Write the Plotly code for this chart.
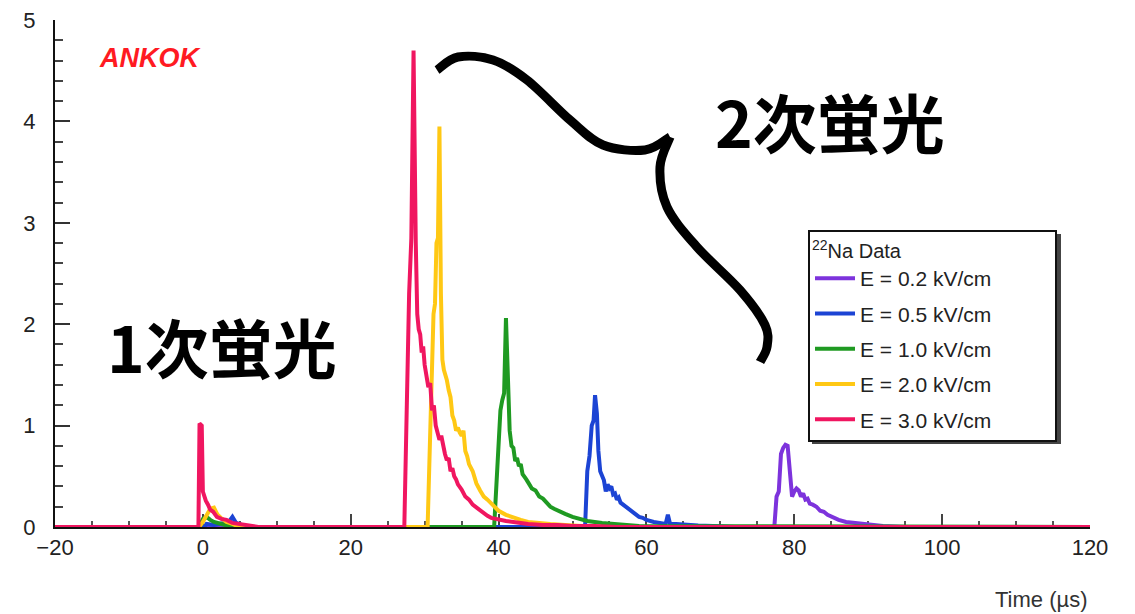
import plotly.graph_objects as go

# ---------------- data ----------------
series_names = ["E = 0.2 kV/cm", "E = 0.5 kV/cm", "E = 1.0 kV/cm", "E = 2.0 kV/cm", "E = 3.0 kV/cm"]
series_colors = ["#7d33dc", "#1c44d4", "#1f9a22", "#ffc814", "#f01660"]

x_e02 = [-20, 77.3, 77.6, 77.9, 78.2, 78.5, 78.8, 79.1, 79.4, 79.7, 80.0, 80.3, 80.6, 80.9, 81.2, 81.5, 81.8, 82.1,
         82.5, 83.0, 83.5, 84.0, 84.5, 85.0, 85.5, 86.0, 87.0, 88.0, 89.0, 90.0, 92.0, 95.0, 120]
y_e02 = [0, 0, 0.3, 0.35, 0.72, 0.78, 0.81, 0.8, 0.55, 0.3, 0.35, 0.38, 0.36, 0.3, 0.33, 0.27, 0.28, 0.23,
         0.22, 0.2, 0.16, 0.15, 0.12, 0.1, 0.08, 0.07, 0.05, 0.04, 0.03, 0.02, 0.01, 0, 0]

x_e05 = [-20, 0.2, 0.5, 1.5, 3.5, 4.0, 4.5, 6,
         51.7, 52.0, 52.3, 52.6, 52.85, 53.05, 53.3, 53.5, 53.75, 54.0, 54.25, 54.5, 54.75, 55.0, 55.25, 55.5, 55.75, 56.0, 56.25, 56.5,
         57.0, 57.5, 58.0, 58.5, 59.0, 59.5, 60.0,
         61.0, 62.0, 62.6, 62.9, 63.2, 64.0, 65.5, 67.0, 69, 72, 120]
y_e05 = [0, 0, 0.03, 0.02, 0.05, 0.1, 0.04, 0,
         0, 0.55, 0.7, 1.0, 1.05, 1.3, 1.12, 0.75, 0.55, 0.5, 0.46, 0.35, 0.42, 0.38, 0.4, 0.32, 0.33, 0.27, 0.29, 0.24,
         0.21, 0.18, 0.15, 0.12, 0.1, 0.09, 0.07,
         0.05, 0.04, 0.03, 0.12, 0.03, 0.03, 0.02, 0.015, 0.01, 0, 0]

x_e10 = [-20, -0.5, 0, 0.5, 1.0, 1.5, 2.5, 4,
         39.4, 39.7, 40.0, 40.25, 40.5, 40.75, 41.0, 41.25, 41.5, 41.75, 42.0, 42.25, 42.5, 42.75, 43.0, 43.25, 43.5, 43.75, 44.0,
         44.5, 45.0, 45.5, 46.0, 46.5, 47.0, 47.5, 48.0,
         49.0, 50.0, 51.0, 52.0, 54.0, 56.0, 59.0, 120]
y_e10 = [0, 0, 0.08, 0.1, 0.07, 0.05, 0.03, 0,
         0, 0.45, 0.95, 1.15, 1.25, 1.32, 2.06, 1.3, 0.95, 0.8, 0.78, 0.65, 0.68, 0.6, 0.62, 0.52, 0.5, 0.47, 0.44,
         0.38, 0.36, 0.3, 0.28, 0.24, 0.2, 0.18, 0.16,
         0.13, 0.1, 0.08, 0.06, 0.04, 0.03, 0.01, 0]

x_e20 = [-20, -0.5, 0.0, 0.5, 1.0, 1.5, 2.0, 2.6, 3.2, 4.0, 5.0,
         30.4, 30.6, 30.8, 31.0, 31.2, 31.4, 31.6, 31.8, 32.0, 32.2, 32.4, 32.6, 32.8, 33.0,
         33.25, 33.5, 33.75, 34.0, 34.25, 34.5, 34.75, 35.0, 35.25, 35.5, 35.75, 36.0,
         36.5, 37.0, 37.5, 38.0, 38.5, 39.0, 39.5, 40.0,
         41.0, 42.0, 43.0, 44.0, 45.0, 47.0, 50.0, 54.0, 120]
y_e20 = [0, 0, 0.05, 0.12, 0.18, 0.19, 0.12, 0.08, 0.05, 0.03, 0,
         0, 0.5, 1.1, 1.55, 2.1, 2.2, 2.8, 2.85, 3.95, 2.3, 1.65, 1.55, 1.5, 1.45,
         1.35, 1.28, 1.1, 1.05, 0.95, 0.98, 0.93, 0.9, 0.95, 0.75, 0.7, 0.62,
         0.55, 0.43, 0.36, 0.3, 0.27, 0.23, 0.19, 0.16,
         0.12, 0.09, 0.07, 0.05, 0.04, 0.03, 0.015, 0, 0]

x_e30 = [-20, -0.6, -0.45, -0.15, 0.0, 0.2, 0.4, 0.7, 1.0, 1.4, 1.9, 2.5, 3.2, 4.0, 5.0, 6.4, 7.5,
         27.25, 27.7, 27.9, 28.2, 28.5, 28.8, 29.0, 29.2, 29.4, 29.6, 29.8, 30.0,
         30.25, 30.5, 30.75, 31.0, 31.25, 31.5, 31.75, 32.0, 32.25, 32.5, 32.75, 33.0, 33.25, 33.5, 33.75, 34.0, 34.25, 34.5,
         35.0, 35.5, 36.0, 36.5, 37.0, 37.5, 38.0, 38.5, 39.0,
         40, 41, 42, 43, 44, 46, 48, 50, 53, 56, 60, 120]
y_e30 = [0, 0, 1.02, 1.0, 0.35, 0.3, 0.26, 0.22, 0.17, 0.15, 0.1, 0.08, 0.07, 0.04, 0.03, 0.02, 0,
         0, 2.0, 2.3, 2.85, 4.7, 2.8, 2.1, 1.95, 1.9, 1.72, 1.78, 1.6,
         1.5, 1.38, 1.42, 1.15, 1.2, 1.0, 0.93, 0.86, 0.9, 0.79, 0.72, 0.66, 0.68, 0.55, 0.58, 0.5, 0.47, 0.42,
         0.37, 0.3, 0.27, 0.22, 0.19, 0.16, 0.13, 0.11, 0.09,
         0.07, 0.06, 0.05, 0.04, 0.03, 0.02, 0.02, 0.01, 0.01, 0, 0, 0]

series_x = [x_e02, x_e05, x_e10, x_e20, x_e30]
series_y = [y_e02, y_e05, y_e10, y_e20, y_e30]

x_ticks = [-20, 0, 20, 40, 60, 80, 100, 120]
y_ticks = [0, 1, 2, 3, 4, 5]

# ---------------- layout geometry (screen pixels of the reference) ----------------
W, H = 1135, 614
OFF = 8                      # page body margin offset of the plot div
PX0, PX1 = 55, 1090          # screen x of the plot area
PY0, PY1 = 20, 527           # screen y of the plot area (top, bottom)
ML, MT = PX0 - OFF, PY0 - OFF
MR, MB = W - (PX1 - OFF), H - (PY1 - OFF)
PW, PH = PX1 - PX0, PY1 - PY0


def to_paper(px, py):
    return ((px - PX0) / PW, (PY1 - py) / PH)


def smooth_path(points):
    pts = [to_paper(*p) for p in points]
    d = f"M {pts[0][0]:.5f},{pts[0][1]:.5f}"
    n = len(pts)
    for i in range(n - 1):
        p0 = pts[i - 1] if i > 0 else pts[i]
        p1, p2 = pts[i], pts[i + 1]
        p3 = pts[i + 2] if i + 2 < n else p2
        c1 = (p1[0] + (p2[0] - p0[0]) / 6, p1[1] + (p2[1] - p0[1]) / 6)
        c2 = (p2[0] - (p3[0] - p1[0]) / 6, p2[1] - (p3[1] - p1[1]) / 6)
        d += f" C {c1[0]:.5f},{c1[1]:.5f} {c2[0]:.5f},{c2[1]:.5f} {p2[0]:.5f},{p2[1]:.5f}"
    return d


brace_upper = [(437, 70), (458, 57), (493, 60), (527, 80), (570, 120), (603, 145), (645, 150), (670, 137)]
brace_lower = [(670, 137), (660, 167), (667, 207), (697, 247), (740, 290), (765, 325), (767, 347), (760, 362)]

fig = go.Figure()
pad = "\u00a0" * 10
for name, color, xs, ys in zip(series_names, series_colors, series_x, series_y):
    assert len(xs) == len(ys), name
    fig.add_trace(go.Scatter(x=xs, y=ys, mode="lines", name=name + pad, legendgroup=name,
                             line=dict(color=color, width=4)))

axis_font = dict(family="Liberation Sans, Arial, sans-serif", size=22, color="#222")
leg_font = dict(family="Liberation Sans, Arial, sans-serif", size=21, color="#222")

# legend drop shadow (legend box is about x 808-1057, y 230-440 on screen)
sx0, sy0 = to_paper(812, 234)
sx1, sy1 = to_paper(1061, 444)
fig.add_shape(type="rect", xref="paper", yref="paper", x0=sx0, y0=sy1, x1=sx1, y1=sy0,
              fillcolor="#444", line=dict(width=0), layer="above")

lx, ly = to_paper(808, 230)
fig.update_layout(
    width=W, height=H,
    margin=dict(l=ML, r=MR, t=MT, b=MB, autoexpand=False),
    paper_bgcolor="white", plot_bgcolor="white",
    showlegend=True,
    legend=dict(
        x=lx, y=ly, xanchor="left", yanchor="top",
        bgcolor="white", bordercolor="#111", borderwidth=2,
        font=leg_font,
        title=dict(text="<sup>22</sup>Na Data", font=dict(family="Liberation Sans, Arial, sans-serif", size=20, color="#222")),
        tracegroupgap=5, itemwidth=40,
    ),
    xaxis=dict(
        range=[-20, 120], tickvals=x_ticks, ticks="inside", ticklen=13, tickwidth=2, tickcolor="#444",
        showgrid=False, zeroline=False, showline=True, linecolor="#111", linewidth=2,
        tickfont=axis_font, layer="below traces", automargin=False, ticklabeloverflow="allow",
        minor=dict(dtick=5, ticks="inside", ticklen=6, tickwidth=1.5, tickcolor="#555", showgrid=False),
    ),
    yaxis=dict(
        range=[0, 5], tickvals=y_ticks, ticks="inside", ticklen=15, tickwidth=2, tickcolor="#333",
        showgrid=False, zeroline=False, showline=True, linecolor="#111", linewidth=2,
        tickfont=axis_font, layer="below traces", ticklabelstandoff=13, automargin=False,
        ticklabeloverflow="allow",
        minor=dict(dtick=0.2, ticks="inside", ticklen=8, tickwidth=2, tickcolor="#444", showgrid=False),
    ),
)

fig.add_annotation(text="Time (µs)", xref="paper", yref="paper", x=1, y=0, xanchor="right", yanchor="top",
                   yshift=-58, showarrow=False, font=dict(family="Liberation Sans, Arial, sans-serif", size=22, color="#333"))
ax, ay = to_paper(150, 58)
fig.add_annotation(text="<b><i>ANKOK</i></b>", xref="paper", yref="paper", x=ax, y=ay, xanchor="center", yanchor="middle",
                   showarrow=False, font=dict(family="Liberation Sans, Arial, sans-serif", size=27, color="#ff1a22"))
cjk = dict(family="Noto Sans CJK JP", size=64, color="black", weight=700)
for txt, (px, py) in (("1次蛍光", (222, 345)), ("2次蛍光", (830, 120))):
    tx, ty = to_paper(px, py)
    fig.add_annotation(text=txt, xref="paper", yref="paper", x=tx, y=ty, xanchor="center", yanchor="middle",
                       showarrow=False, font=cjk)

for arm in (brace_upper, brace_lower):
    fig.add_shape(type="path", xref="paper", yref="paper", path=smooth_path(arm),
                  line=dict(color="black", width=9))

fig.write_html("out.html")
